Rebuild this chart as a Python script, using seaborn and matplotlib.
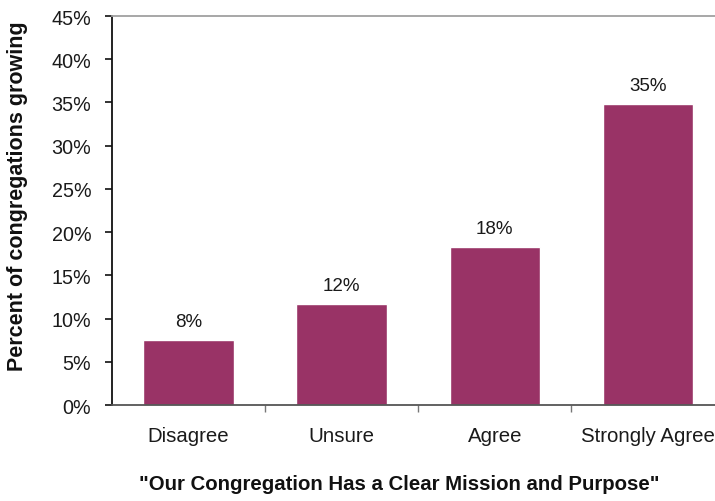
import matplotlib
matplotlib.use("Agg")
import matplotlib.pyplot as plt
from matplotlib.ticker import FixedLocator, PercentFormatter
import seaborn as sns
import pandas as pd

# Survey responses and share of growing congregations (percent)
categories = ["Disagree", "Unsure", "Agree", "Strongly Agree"]
growing_pct = [7.5, 11.7, 18.3, 34.8]
y_ticks = [0, 5, 10, 15, 20, 25, 30, 35, 40, 45]

df = pd.DataFrame({"response": categories, "pct": growing_pct})

sns.set_style("white")
plt.rcParams["font.family"] = ["Liberation Sans", "DejaVu Sans"]

fig = plt.figure(figsize=(7.15, 5.02), dpi=100)
ax = fig.add_axes([0.1566, 0.1912, 0.8566, 0.7749])

sns.barplot(data=df, x="response", y="pct", order=categories,
            color="#993366", saturation=1, width=0.59, ax=ax)

ax.set_xlim(-0.5, len(categories) - 0.5)
ax.set_ylim(0, 45)
ax.yaxis.set_major_locator(FixedLocator(y_ticks))
ax.yaxis.set_major_formatter(PercentFormatter(decimals=0))

# value labels above each bar
for i, v in enumerate(growing_pct):
    ax.annotate(f"{round(v)}%", xy=(i, v), xytext=(0, 7), textcoords="offset points",
                ha="center", va="bottom", fontsize=13.5, color="#1a1a1a")

# spines: black left axis, dark grey baseline, light grey top border
ax.spines["right"].set_visible(False)
ax.spines["left"].set_color("#111111")
ax.spines["left"].set_linewidth(1.3)
ax.spines["bottom"].set_color("#555555")
ax.spines["bottom"].set_linewidth(1.3)
ax.spines["top"].set_color("#a0a0a0")
ax.spines["top"].set_linewidth(1.3)

# y ticks outside on the left
ax.tick_params(axis="y", which="major", direction="out", left=True, length=5,
               width=1.2, color="#111111", pad=10, labelsize=14.2, labelcolor="#1a1a1a")
# x: category labels without marks, separators as minor ticks between bars
ax.tick_params(axis="x", which="major", length=0, pad=15, labelsize=14.7,
               labelcolor="#1a1a1a")
ax.set_xticks([i + 0.5 for i in range(len(categories) - 1)], minor=True)
ax.tick_params(axis="x", which="minor", direction="out", bottom=True, length=5,
               width=1.0, color="#777777")

ax.set_ylabel("Percent of congregations growing", fontsize=15.5, fontweight="bold",
              color="#111111")
ax.yaxis.set_label_coords(-0.137, 0.54)
ax.set_xlabel("\"Our Congregation Has a Clear Mission and Purpose\"", fontsize=14.7,
              fontweight="bold", color="#111111")
ax.xaxis.set_label_coords(0.4686, -0.177)

fig.savefig("out.png", dpi=100)
